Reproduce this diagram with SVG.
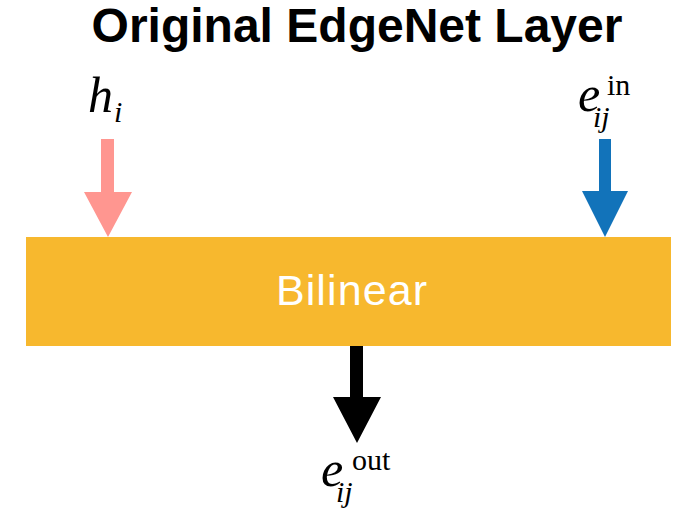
<svg xmlns="http://www.w3.org/2000/svg" width="696" height="528" viewBox="0 0 696 528">
<style>
.title{font-family:"Liberation Sans",Arial,sans-serif;font-weight:bold;font-size:48px;fill:#000}
.lbl{font-family:"Liberation Sans",Arial,sans-serif;font-size:43px;fill:#fff;letter-spacing:1.1px}
.m{font-family:"Liberation Serif","Times New Roman",serif;font-style:italic;font-size:50px;fill:#000}
.s{font-family:"Liberation Serif","Times New Roman",serif;font-style:italic;font-size:30px;fill:#000}
.u{font-family:"Liberation Serif","Times New Roman",serif;font-size:30px;fill:#000}
</style>
<rect width="696" height="528" fill="#fff"/>
<text class="title" x="357" y="42" text-anchor="middle">Original EdgeNet Layer</text>
<g id="bilinear">
<rect x="26" y="237" width="645" height="109" fill="#F7B82E"/>
<text class="lbl" x="352" y="305" text-anchor="middle">Bilinear</text>
</g>
<g id="h_i">
<text class="m" x="88" y="112">h</text><text class="s" x="114" y="122">i</text>
</g>
<g id="e_in">
<text class="m" x="578" y="111">e</text><text class="s" x="593" y="127">ij</text><text class="u" x="607" y="95">in</text>
</g>
<g id="e_out">
<text class="m" x="321" y="486">e</text><text class="s" x="336" y="502">ij</text><text class="u" x="352" y="470">out</text>
</g>
<g id="connectors">
<polygon points="101,139 114,139 114,192 132,192 108,237 84,192 101,192" fill="#FF9690"/>
<polygon points="599,139 611,139 611,191 628,191 605,237 582,191 599,191" fill="#1273BA"/>
<polygon points="350,346 363,346 363,397 381,397 357,443 333,397 350,397" fill="#000"/>
</g>
</svg>
